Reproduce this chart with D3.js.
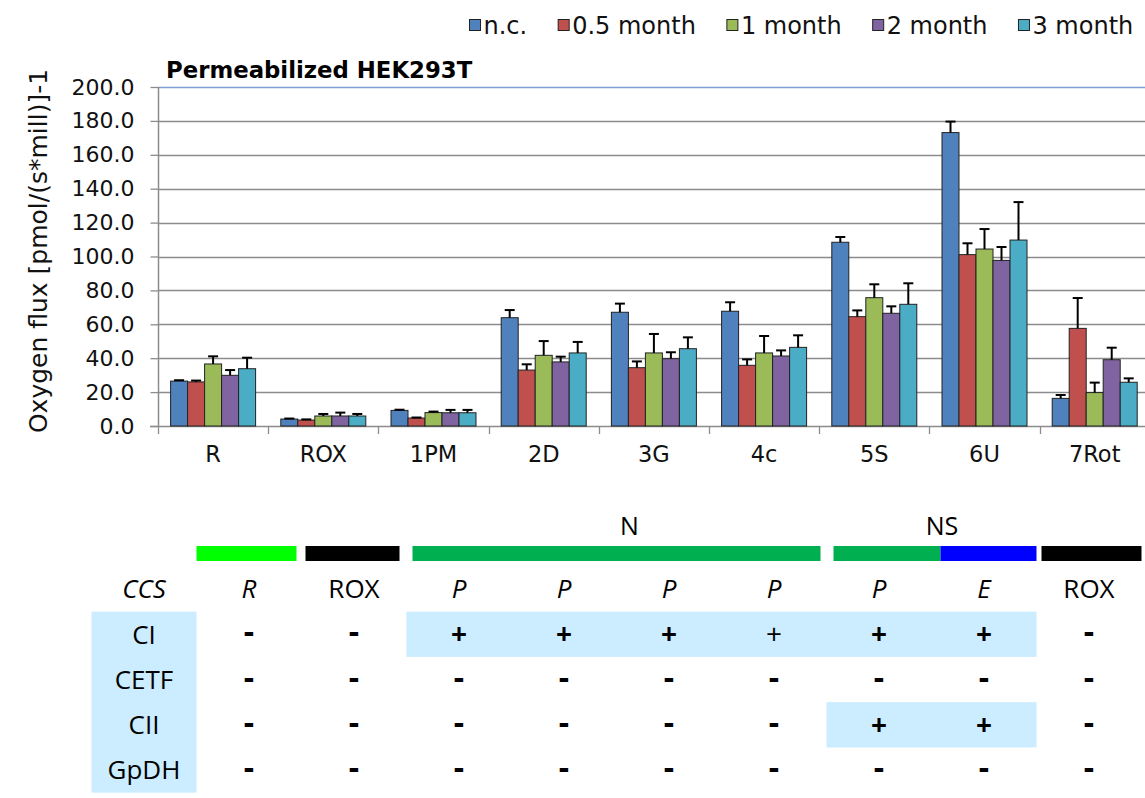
<!DOCTYPE html>
<html>
<head>
<meta charset="utf-8">
<script src="https://cdn.jsdelivr.net/npm/d3@7"></script>
<style>
  body { margin: 0; background: #fff; }
  svg { display: block; }
</style>
</head>
<body>
<script>
// chart data
const categories = ["R", "ROX", "1PM", "2D", "3G", "4c", "5S", "6U", "7Rot"];
const seriesNames = ["n.c.", "0.5 month", "1 month", "2 month", "3 month"];
const seriesColors = ["#4F81BD", "#C0504D", "#9BBB59", "#8064A2", "#4BACC6"];
// one array per series, in category order
const ncValues    = [26.5, 4.1, 9.2, 63.9, 67.1, 67.7, 108.4, 173.1, 16.3];
const m05Values   = [26.0, 3.5, 4.7, 33.0, 34.4, 35.8, 64.5, 101.1, 57.6];
const m1Values    = [36.6, 5.9, 7.9, 41.7, 43.1, 43.1, 75.7, 104.4, 19.7];
const m2Values    = [29.9, 5.9, 7.8, 37.8, 39.7, 41.3, 66.5, 97.7, 39.1];
const m3Values    = [33.8, 5.9, 7.8, 43.1, 45.6, 46.4, 71.8, 109.7, 25.8];
const ncErr       = [0.5, 0.3, 0.4, 4.5, 5.1, 5.3, 3.1, 6.5, 2.0];
const m05Err      = [0.8, 0.4, 0.3, 3.4, 3.7, 3.5, 3.7, 6.7, 17.9];
const m1Err       = [4.5, 1.2, 0.6, 8.4, 11.2, 10.0, 7.9, 11.8, 5.9];
const m2Err       = [3.1, 2.0, 1.7, 3.1, 3.8, 3.3, 4.1, 7.9, 7.1];
const m3Err       = [6.5, 1.2, 1.7, 6.5, 6.7, 7.1, 12.4, 22.4, 2.3];
const yTicks = d3.range(0, 201, 20);

// table data
const tableRows = ["CCS", "CI", "CETF", "CII", "GpDH"];
const ccsRow  = ["R", "ROX", "P", "P", "P", "P", "P", "E", "ROX"];
const ccsItalic = [true, false, true, true, true, true, true, true, false];
const ciRow   = ["-", "-", "+", "+", "+", "+", "+", "+", "-"];
const ciBold  = [true, true, true, true, true, false, true, true, true];
const cetfRow = ["-", "-", "-", "-", "-", "-", "-", "-", "-"];
const ciiRow  = ["-", "-", "-", "-", "-", "-", "+", "+", "-"];
const gpdhRow = ["-", "-", "-", "-", "-", "-", "-", "-", "-"];
// highlighted cells: [row, first column, last column] (columns 1..9)
const highlights = [["CI", 3, 8], ["CII", 7, 8]];
// pathway bars above the table: [label, first column, last column]
const pathwayBars = [["", 1, 1], ["", 2, 2], ["N", 3, 6], ["NS", 7, 8], ["", 9, 9]];
const pathwayColors = [["#00FF00"], ["#000000"], ["#00AF50"], ["#00AF50", "#0000FF"], ["#000000"]];
const pathwayInsets = [[0, 5], [4, 7], [6, 6], [7, 0], [5, 0]];
const pathwayLabelShift = [0, 0, 13, 7, 0];

const W = 1145, H = 798;
const svg = d3.select("body").append("svg").attr("width", W).attr("height", H);

const chartFont = "DejaVu Sans, Verdana, sans-serif";
const tableFont = "Open Sans, sans-serif";

// scales
const x0 = d3.scaleBand().domain(categories).range([158, 158 + 9 * 110.2]);
const x1 = d3.scaleBand().domain(seriesNames).range([12.6, 97.6]);
const y = d3.scaleLinear().domain([0, 200]).range([426, 87]);

const values = [ncValues, m05Values, m1Values, m2Values, m3Values];
const errors = [ncErr, m05Err, m1Err, m2Err, m3Err];

// gridlines
svg.append("g").selectAll("line")
  .data(yTicks.filter(d => d > 0))
  .join("line")
  .attr("x1", 158).attr("x2", W)
  .attr("y1", d => Math.round(y(d)) + 0.5).attr("y2", d => Math.round(y(d)) + 0.5)
  .attr("stroke", d => d === 200 ? "#7F9FD2" : "#8C8C8C")
  .attr("stroke-width", 1.3);

// y axis
const yAxis = svg.append("g").attr("transform", "translate(158.5,0)")
  .call(d3.axisLeft(y).tickValues(yTicks).tickSize(8).tickPadding(16).tickFormat(d3.format(".1f")));
yAxis.select(".domain").attr("stroke", "#8C8C8C").attr("stroke-width", 1.5).attr("d", "M0,87V426");
yAxis.selectAll(".tick line").attr("stroke", "#8C8C8C").attr("stroke-width", 1.3);
yAxis.selectAll(".tick text").attr("font-family", chartFont).attr("font-size", 22).attr("fill", "#111");

// x axis
const xAxis = svg.append("g").attr("transform", "translate(0,426.5)")
  .call(d3.axisBottom(x0).tickSize(0).tickPadding(20));
xAxis.select(".domain").attr("stroke", "#8C8C8C").attr("stroke-width", 1.5).attr("d", "M150,0H" + W);
xAxis.selectAll(".tick text").attr("font-family", chartFont).attr("font-size", 22.5).attr("fill", "#111");
// category separators
svg.append("g").selectAll("line")
  .data(categories)
  .join("line")
  .attr("x1", d => Math.round(x0(d)) + 0.5).attr("x2", d => Math.round(x0(d)) + 0.5)
  .attr("y1", 426).attr("y2", 434)
  .attr("stroke", "#8C8C8C").attr("stroke-width", 1.3);

// bars
const barData = [];
seriesNames.forEach((s, si) => {
  categories.forEach((c, ci) => {
    barData.push({ cat: c, series: s, si: si, v: values[si][ci], e: errors[si][ci] });
  });
});

svg.append("g").selectAll("rect")
  .data(barData)
  .join("rect")
  .attr("x", d => x0(d.cat) + x1(d.series))
  .attr("y", d => y(d.v))
  .attr("width", x1.bandwidth())
  .attr("height", d => y(0) - y(d.v))
  .attr("fill", d => seriesColors[d.si])
  .attr("stroke", "#222")
  .attr("stroke-width", 1);

// error bars (upper only)
const err = svg.append("g").attr("stroke", "#000").attr("stroke-width", 2);
err.selectAll("line.v")
  .data(barData)
  .join("line").attr("class", "v")
  .attr("x1", d => x0(d.cat) + x1(d.series) + x1.bandwidth() / 2)
  .attr("x2", d => x0(d.cat) + x1(d.series) + x1.bandwidth() / 2)
  .attr("y1", d => y(d.v)).attr("y2", d => y(d.v + d.e));
err.selectAll("line.cap")
  .data(barData)
  .join("line").attr("class", "cap")
  .attr("x1", d => x0(d.cat) + x1(d.series) + x1.bandwidth() / 2 - 5)
  .attr("x2", d => x0(d.cat) + x1(d.series) + x1.bandwidth() / 2 + 5)
  .attr("y1", d => y(d.v + d.e)).attr("y2", d => y(d.v + d.e));

// title
svg.append("text")
  .attr("x", 166).attr("y", 78)
  .attr("font-family", chartFont).attr("font-size", 22.8).attr("font-weight", "bold")
  .text("Permeabilized HEK293T");

// y axis title
svg.append("text")
  .attr("transform", "translate(47,251) rotate(-90)")
  .attr("text-anchor", "middle")
  .attr("font-family", chartFont).attr("font-size", 25).attr("fill", "#111")
  .text("Oxygen flux [pmol/(s*mill)]-1");

// legend
const legend = svg.append("g").attr("font-family", chartFont).attr("font-size", 24).attr("fill", "#111");
const items = legend.selectAll("g").data(seriesNames).join("g");
items.append("rect")
  .attr("width", 11).attr("height", 11).attr("y", -6)
  .attr("fill", (d, i) => seriesColors[i]).attr("stroke", "#222").attr("stroke-width", 1);
items.append("text")
  .attr("x", 14).attr("dy", "0.36em")
  .text(d => d);
let lx = 469.5;
items.each(function () {
  d3.select(this).attr("transform", "translate(" + lx + ",25.5)");
  lx += 14 + d3.select(this).select("text").node().getComputedTextLength() + 31;
});

// table
const col = d3.scaleBand().domain(d3.range(10)).range([91.5, 1141.5]);
const row = d3.scaleBand().domain(tableRows).range([566.4, 792.7]);

const table = svg.append("g").attr("font-family", tableFont).attr("fill", "#000");

// label column background
table.append("rect")
  .attr("x", col(0)).attr("y", row("CI"))
  .attr("width", col.bandwidth()).attr("height", row.bandwidth() * 4)
  .attr("fill", "#CCECFF");

table.selectAll("rect.hl")
  .data(highlights)
  .join("rect").attr("class", "hl")
  .attr("x", d => col(d[1]))
  .attr("y", d => row(d[0]))
  .attr("width", d => col(d[2]) + col.bandwidth() - col(d[1]))
  .attr("height", row.bandwidth())
  .attr("fill", "#CCECFF");

// pathway bars
pathwayBars.forEach((b, i) => {
  const xa = col(b[1]) + pathwayInsets[i][0];
  const xb = col(b[2]) + col.bandwidth() - pathwayInsets[i][1];
  const cols = pathwayColors[i];
  if (cols.length === 1) {
    table.append("rect").attr("x", xa).attr("y", 546).attr("width", xb - xa).attr("height", 15).attr("fill", cols[0]);
  } else {
    const mid = col(b[2]) + 9;
    table.append("rect").attr("x", xa).attr("y", 546).attr("width", mid - xa).attr("height", 15).attr("fill", cols[0]);
    table.append("rect").attr("x", mid).attr("y", 546).attr("width", xb - mid).attr("height", 15).attr("fill", cols[1]);
  }
  if (b[0]) {
    table.append("text")
      .attr("x", (xa + xb) / 2 + pathwayLabelShift[i]).attr("y", 526).attr("dy", "0.36em")
      .attr("text-anchor", "middle").attr("font-size", 25)
      .text(b[0]);
  }
});

// row labels
table.selectAll("text.rl")
  .data(tableRows)
  .join("text").attr("class", "rl")
  .attr("x", col(0) + col.bandwidth() / 2)
  .attr("y", d => row(d) + row.bandwidth() / 2)
  .attr("dy", "0.36em").attr("text-anchor", "middle").attr("font-size", 26)
  .attr("font-style", d => d === "CCS" ? "italic" : "normal")
  .text(d => d);

// CCS row
table.selectAll("text.ccs")
  .data(ccsRow)
  .join("text").attr("class", "ccs")
  .attr("x", (d, i) => col(i + 1) + col.bandwidth() / 2)
  .attr("y", row("CCS") + row.bandwidth() / 2)
  .attr("dy", "0.36em").attr("text-anchor", "middle").attr("font-size", 26)
  .attr("font-style", (d, i) => ccsItalic[i] ? "italic" : "normal")
  .text(d => d);

// sign rows
const signRows = [["CI", ciRow, ciBold], ["CETF", cetfRow, null], ["CII", ciiRow, null], ["GpDH", gpdhRow, null]];
signRows.forEach(r => {
  table.selectAll(null)
    .data(r[1])
    .join("text")
    .attr("x", (d, i) => col(i + 1) + col.bandwidth() / 2)
    .attr("y", row(r[0]) + row.bandwidth() / 2)
    .attr("dy", d => d === "+" ? "0.36em" : "0.28em")
    .attr("text-anchor", "middle").attr("font-size", d => d === "+" ? 28 : 32)
    .attr("font-weight", (d, i) => (r[2] && !r[2][i]) ? "normal" : "bold")
    .text(d => d);
});
</script>
</body>
</html>
